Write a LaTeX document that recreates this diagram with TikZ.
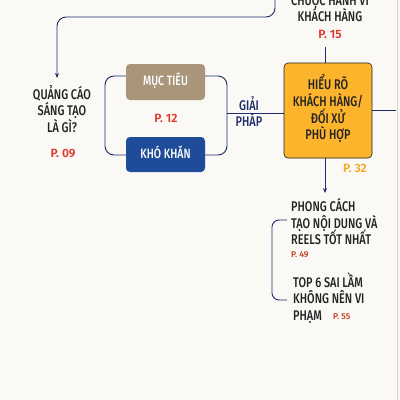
\documentclass[tikz,border=0pt]{standalone}
\usepackage{fontspec}
\setmainfont{Fira Sans}
\newfontfamily\hand[FakeStretch=0.78]{Fira Sans Medium}
\newfontfamily\pfont{Fira Sans SemiBold}
\usetikzlibrary{arrows.meta}
\definecolor{paper}{HTML}{FAF9F6}
\definecolor{navy}{HTML}{1E2C6A}
\definecolor{ink}{HTML}{222222}
\definecolor{pred}{HTML}{E0392B}
\definecolor{pbrown}{HTML}{C0442A}
\definecolor{porange}{HTML}{F5A623}
\definecolor{boxorange}{HTML}{FBB42C}
\definecolor{boxtaupe}{HTML}{A8957A}
\definecolor{boxnavy}{HTML}{1F4C98}
\definecolor{edge}{HTML}{DCD3CA}
\tikzset{
  lbl/.style={inner sep=0pt, text=ink, font=\hand\fontsize{14}{16}\selectfont, anchor=base},
  lblw/.style={lbl, anchor=base west},
  wlbl/.style={inner sep=0pt, text=white, font=\hand\fontsize{13.5}{15}\selectfont, anchor=base},
  pg/.style={inner sep=0pt, text=pred, font=\pfont\fontsize{12}{13}\selectfont, anchor=base},
  pgs/.style={inner sep=0pt, text=pbrown, font=\pfont\fontsize{8.5}{10}\selectfont, anchor=base west},
  conn/.style={draw=navy, line width=0.9pt},
  arr/.style={conn, -{Stealth[length=5pt,width=4pt]}},
  box/.style={rounded corners=4pt}
}
\begin{document}
\begin{tikzpicture}[x=1pt,y=-1pt]
\useasboundingbox (0,0) rectangle (400,400);
\clip (0,0) rectangle (400,400);
\fill[paper] (0,0) rectangle (400,400);
\draw[edge, line width=1.2pt] (397.5,0) -- (397.5,400);

% top text (cut off at the page top, as in the reference)
\node[lbl] (t0) at (330,5) {CHUỘC HÀNH VI};
\node[lbl] (t1) at (330,21) {KHÁCH HÀNG};
\node[pg] (p15) at (330,38) {P. 15};

% orange box
\fill[boxorange, box] (284,63) rectangle (372,158);
\draw[ink, line width=0.6pt, box] (284,63) rectangle (372,158);
\node[lbl] (o1) at (328,89) {HIỂU RÕ};
\node[lbl] (o2) at (328,106) {KHÁCH HÀNG/};
\node[lbl] (o3) at (328,123) {ĐỐI XỬ};
\node[lbl] (o4) at (328,139) {PHÙ HỢP};
\node[pg, text=porange] (p32) at (355,172) {P. 32};

\coordinate (topline) at (325,47);
\coordinate (obtop) at (325,63);
\draw[conn] (topline) -- (obtop);

\coordinate (obbot) at (325,158);
\coordinate (arrend) at (325,193);
\draw[arr] (obbot) -- (arrend);

\coordinate (obr) at (372,110);
\coordinate (rightend) at (396,110);
\draw[conn] (obr) -- (rightend);

% top connector
\coordinate (tstart) at (275,-2);
\coordinate (tend) at (57,78);
\draw[arr, rounded corners=9pt] (tstart) |- (57,17) -- (tend);

% left text
\node[lbl] (q1) at (62,99) {QUẢNG CÁO};
\node[lbl] (q2) at (62,115) {SÁNG TẠO};
\node[lbl] (q3) at (62,132) {LÀ GÌ?};
\node[pg] (p09) at (63,157) {P. 09};

% bracket rect
\draw[conn, rounded corners=9pt] (105,76) rectangle (227,155);
\coordinate (bright) at (227,113);
\coordinate (obl) at (284,113);
\draw[conn] (bright) -- (obl);
\node[lbl, text=navy] (g1) at (249,110) {GIẢI};
\node[lbl, text=navy] (g2) at (249,126) {PHÁP};

% two boxes
\fill[boxtaupe, box] (126,64) rectangle (205,100);
\node[wlbl] (muc) at (165.5,85.5) {MỤC TIÊU};
\node[pg] (p12) at (166,122) {P. 12};
\fill[boxnavy, box] (126,137) rectangle (205,172);
\node[wlbl] (kho) at (165.5,158.5) {KHÓ KHĂN};

% right list
\node[lblw] (r1) at (291,211) {PHONG CÁCH};
\node[lblw] (r2) at (291,228) {TẠO NỘI DUNG VÀ};
\node[lblw] (r3) at (291,244) {REELS TỐT NHẤT};
\node[pgs] (p49) at (291,257) {P. 49};
\node[lblw] (s1) at (293,287) {TOP 6 SAI LẦM};
\node[lblw] (s2) at (293,303) {KHÔNG NÊN VI};
\node[lblw] (s3) at (293,320) {PHẠM};
\node[pgs] (p55) at (333,319) {P. 55};

\coordinate (bt) at (287,220);
\coordinate (bb) at (287,300);
\draw[conn, rounded corners=7pt] (bt) -- (272,220) -- (272,300) -- (bb);
\end{tikzpicture}
\end{document}
